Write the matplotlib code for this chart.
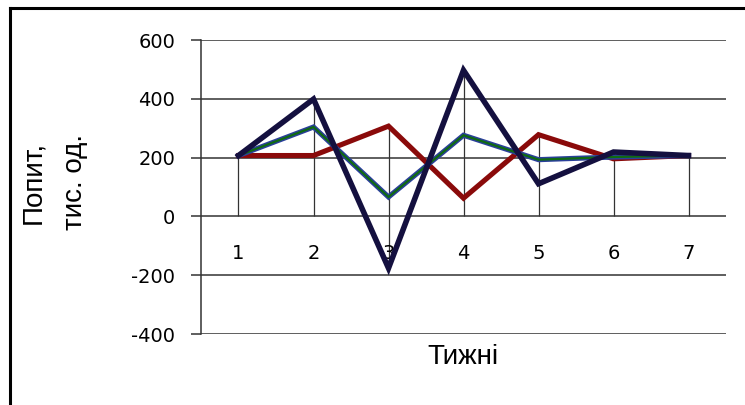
import matplotlib
matplotlib.use("Agg")
import matplotlib.pyplot as plt
from matplotlib.lines import Line2D

# Weekly demand, thousand units
weeks = [1, 2, 3, 4, 5, 6, 7]
demand_red = [207, 207, 307, 62, 278, 196, 207]
demand_green = [207, 304, 66, 276, 193, 202, 207]
demand_navy = [207, 399, -176, 497, 111, 219, 207]
y_ticks = [-400, -200, 0, 200, 400, 600]

W, H = 745, 405
fig = plt.figure(figsize=(W / 100, H / 100), dpi=100)
fig.patch.set_facecolor("white")

left, right, top, bottom = 201, 726, 40, 334
ax = fig.add_axes([left / W, 1 - bottom / H, (right - left) / W, (bottom - top) / H])
ax.set_xlim(0.5, 7.5)
ax.set_ylim(-400, 600)

grid_col = "#333333"
for v in y_ticks:
    ax.axhline(v, color=grid_col, lw=1.1, zorder=1)

# drop lines from each category to the horizontal axis
for i, w in enumerate(weeks):
    vals = [demand_red[i], demand_green[i], demand_navy[i]]
    ax.vlines(w, min(0, min(vals)), max(0, max(vals)), color=grid_col, lw=0.9, zorder=1)

ax.plot(weeks, demand_red, color="#8a0a0a", lw=3.7, solid_joinstyle="miter", zorder=3)
ax.plot(weeks, demand_green, color="#2a3f9a", lw=3.7, solid_joinstyle="miter", zorder=4)
ax.plot(weeks, demand_green, color="#0f6a12", lw=1.6, solid_joinstyle="miter", zorder=5)
ax.plot(weeks, demand_navy, color="#14103f", lw=4.0, solid_joinstyle="miter", zorder=6)

for s in ["top", "right"]:
    ax.spines[s].set_visible(False)
ax.spines["bottom"].set_position(("data", 0))
ax.spines["bottom"].set_visible(False)
ax.spines["left"].set_color(grid_col)
ax.spines["left"].set_linewidth(1.1)

tick_font = ["DejaVu Sans"]
ax.set_yticks(y_ticks)
ax.set_yticklabels([str(v) for v in y_ticks], fontsize=14, family=tick_font)
ax.tick_params(axis="y", length=7.5, width=1.1, color=grid_col, pad=11)

ax.set_xticks(weeks)
ax.set_xticklabels([str(w) for w in weeks], fontsize=14, family=tick_font)
ax.tick_params(axis="x", length=0, pad=20)

lab_font = ["Liberation Sans", "DejaVu Sans"]
fig.text(463 / W, 1 - 357 / H, "Тижні", ha="center", va="center",
         fontsize=20, family=lab_font)
fig.text(54 / W, 1 - 182 / H, "Попит,\nтис. од.", ha="center", va="center",
         rotation=90, fontsize=20, family=lab_font, linespacing=1.75)

# outer frame
fig.add_artist(Line2D([10 / W, 1.0], [1 - 7.5 / H] * 2, color="black", lw=2.2,
                      transform=fig.transFigure))
fig.add_artist(Line2D([10 / W] * 2, [0.0, 1 - 7.5 / H], color="black", lw=2.2,
                      transform=fig.transFigure))

fig.savefig("out.png", dpi=100, facecolor="white")
